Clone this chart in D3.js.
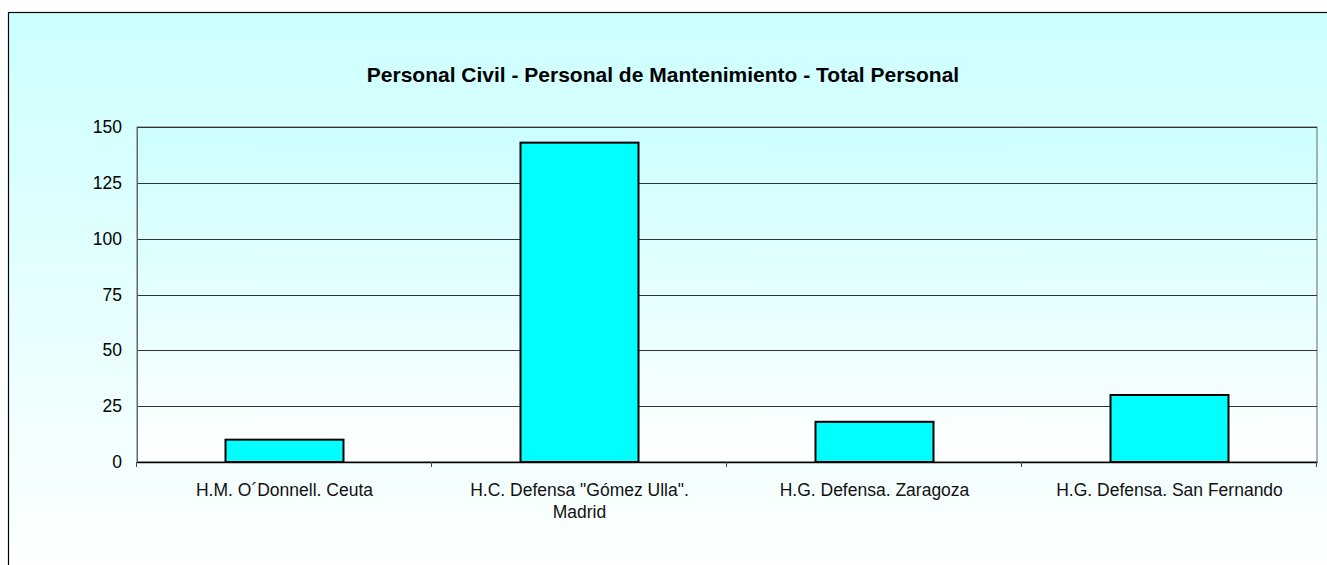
<!DOCTYPE html>
<html>
<head>
<meta charset="utf-8">
<script src="https://cdn.jsdelivr.net/npm/d3@7"></script>
<style>
  body { margin: 0; background: #fff; }
  text { font-family: Arial, "Liberation Sans", sans-serif; }
</style>
</head>
<body>
<div id="chart"></div>
<script>
// Data
var categories = ["H.M. O´Donnell. Ceuta", "H.C. Defensa \"Gómez Ulla\". Madrid", "H.G. Defensa. Zaragoza", "H.G. Defensa. San Fernando"];
var values = [10, 143, 18, 30];
var yTicks = [0, 25, 50, 75, 100, 125, 150];
var title = "Personal Civil - Personal de Mantenimiento - Total Personal";

var W = 1327, H = 565;
var margin = {top: 127, right: 10, bottom: 103, left: 137},
    w = 1317 - margin.left,
    h = 462 - margin.top;

var svg = d3.select("#chart")
  .append("svg")
  .attr("width", W)
  .attr("height", H);

var defs = svg.append("defs");
var g1 = defs.append("linearGradient").attr("id", "bgOuter")
  .attr("x1", 0).attr("y1", 0).attr("x2", 0).attr("y2", 1);
g1.append("stop").attr("offset", "0%").attr("stop-color", "#ccffff");
g1.append("stop").attr("offset", "100%").attr("stop-color", "#ffffff");
var g2 = defs.append("linearGradient").attr("id", "bgPlot")
  .attr("x1", 0).attr("y1", 0).attr("x2", 0).attr("y2", 1);
g2.append("stop").attr("offset", "0%").attr("stop-color", "#ccffff");
g2.append("stop").attr("offset", "100%").attr("stop-color", "#ffffff");

// chart area (cropped on right and bottom)
svg.append("rect")
  .attr("x", 8.5).attr("y", 12.5)
  .attr("width", W + 10).attr("height", H + 10)
  .attr("fill", "url(#bgOuter)")
  .attr("stroke", "#000")
  .attr("stroke-width", 1.2);

var plot = svg.append("g")
  .attr("transform", `translate(${margin.left},${margin.top})`);

plot.append("rect")
  .attr("width", w).attr("height", h)
  .attr("fill", "url(#bgPlot)")
  .attr("stroke", "#666")
  .attr("stroke-width", 1);

var x = d3.scaleBand()
  .domain(categories)
  .range([0, w])
  .paddingInner(0)
  .paddingOuter(0);

var y = d3.scaleLinear()
  .domain([0, 150])
  .range([h, 0]);

// gridlines
plot.append("g")
  .selectAll("line")
  .data(yTicks)
  .enter()
  .append("line")
  .attr("x1", 0).attr("x2", w)
  .attr("y1", d => Math.round(y(d)) + 0.5)
  .attr("y2", d => Math.round(y(d)) + 0.5)
  .attr("stroke", "#333")
  .attr("stroke-width", 1);

// y axis
var yAxis = plot.append("g")
  .call(d3.axisLeft(y).tickValues(yTicks).tickSize(0).tickPadding(15));
yAxis.select(".domain").attr("stroke", "#666");
yAxis.selectAll("text")
  .style("font-size", "17.5px")
  .style("fill", "#000");

// bars
var bw = x.bandwidth() * 0.4;
plot.selectAll(".bar")
  .data(values)
  .enter()
  .append("rect")
  .attr("class", "bar")
  .attr("x", (d, i) => x(categories[i]) + (x.bandwidth() - bw) / 2)
  .attr("y", d => y(d))
  .attr("width", bw)
  .attr("height", d => h - y(d))
  .attr("fill", "#00ffff")
  .attr("stroke", "#000")
  .attr("stroke-width", 2);

// x axis
var xAxis = plot.append("g")
  .attr("transform", "translate(0," + h + ")")
  .call(d3.axisBottom(x).tickSize(0).tickFormat(""));
xAxis.select(".domain").attr("stroke", "#000").attr("stroke-width", 1.5);
xAxis.selectAll(".tick").remove();

// category boundary ticks
var bounds = d3.range(categories.length + 1).map(i => i * x.bandwidth());
plot.append("g")
  .selectAll("line")
  .data(bounds)
  .enter()
  .append("line")
  .attr("x1", d => Math.round(d) - 0.5).attr("x2", d => Math.round(d) - 0.5)
  .attr("y1", h).attr("y2", h + 5)
  .attr("stroke", "#444");

// category labels, wrapped
var wrapLines = [["H.M. O´Donnell. Ceuta"], ["H.C. Defensa \"Gómez Ulla\".", "Madrid"], ["H.G. Defensa. Zaragoza"], ["H.G. Defensa. San Fernando"]];
categories.forEach(function(c, i) {
  var t = plot.append("text")
    .attr("x", x(c) + x.bandwidth() / 2)
    .attr("y", h + 34)
    .attr("text-anchor", "middle")
    .style("font-size", "17.5px")
    .style("fill", "#111");
  wrapLines[i].forEach(function(line, j) {
    t.append("tspan")
      .attr("x", x(c) + x.bandwidth() / 2)
      .attr("dy", j === 0 ? 0 : 22)
      .text(line);
  });
});

// title
svg.append("text")
  .attr("x", 663)
  .attr("y", 82)
  .attr("text-anchor", "middle")
  .style("font-size", "21px")
  .style("font-weight", "bold")
  .text(title);
</script>
</body>
</html>
